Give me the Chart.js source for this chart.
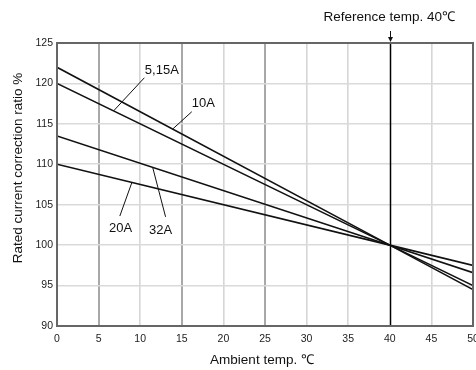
<!DOCTYPE html>
<html>
<head>
<meta charset="utf-8">
<script src="https://cdn.jsdelivr.net/npm/chart.js@4"></script>
<style>
  html, body { margin: 0; padding: 0; background: #fff; }
  #wrap { width: 476px; height: 370px; }
</style>
</head>
<body>
<div id="wrap"><canvas id="c" width="476" height="370"></canvas></div>
<script>
// ---- data ----
const temps = [0, 40, 50];
const seriesNames = ['10A', '5,15A', '32A', '20A'];
const s10A   = [122, 100, 94.5];
const s515A  = [120, 100, 95];
const s32A   = [113.5, 100, 96.6];
const s20A   = [110, 100, 97.5];
const xTicks = [0, 5, 10, 15, 20, 25, 30, 35, 40, 45, 50];
const yTicks = [90, 95, 100, 105, 110, 115, 120, 125];
const refTemp = 40;

// labels with leader lines (data units)
const callouts = [
  { text: '5,15A', series: 1, atX: 6.8,  fromX: 10.5, fromY: 120.7, tx: 12.6,  ty: 121.7 },
  { text: '10A',   series: 0, atX: 13.9, fromX: 16.2, fromY: 116.5, tx: 17.6,  ty: 117.6 },
  { text: '20A',   series: 3, atX: 9.0,  fromX: 7.55, fromY: 103.6, tx: 7.65,  ty: 102.1 },
  { text: '32A',   series: 2, atX: 11.5, fromX: 13.05,fromY: 103.5, tx: 12.45, ty: 101.9 }
];

const allSeries = [s10A, s515A, s32A, s20A];
function valAt(arr, x) {
  for (let i = 0; i < temps.length - 1; i++) {
    if (x >= temps[i] && x <= temps[i+1]) {
      const t = (x - temps[i]) / (temps[i+1] - temps[i]);
      return arr[i] + t * (arr[i+1] - arr[i]);
    }
  }
  return arr[arr.length - 1];
}

const FONT = '"Liberation Sans", Arial, Helvetica, sans-serif';

const datasets = allSeries.map((arr, i) => ({
  label: seriesNames[i],
  data: temps.map((t, j) => ({ x: t, y: arr[j] })),
  borderColor: '#111',
  borderWidth: 1.6,
  pointRadius: 0,
  fill: false,
  tension: 0
}));

const decor = {
  id: 'decor',
  beforeDatasetsDraw(chart) {
    const { ctx, chartArea: a, scales: { x, y } } = chart;
    ctx.save();
    ctx.strokeStyle = '#000';
    ctx.lineWidth = 1.5;
    const rx = Math.round(x.getPixelForValue(refTemp)) + 0.5;
    ctx.beginPath(); ctx.moveTo(rx, a.top); ctx.lineTo(rx, a.bottom); ctx.stroke();
    ctx.restore();
  },
  afterDatasetsDraw(chart) {
    const { ctx, chartArea: a, scales: { x, y } } = chart;
    ctx.save();
    // frame
    ctx.strokeStyle = '#666';
    ctx.lineWidth = 2;
    ctx.strokeRect(a.left, a.top, a.right - a.left, a.bottom - a.top);

    // callouts
    ctx.font = '13px ' + FONT;
    ctx.textAlign = 'center';
    ctx.textBaseline = 'middle';
    callouts.forEach(c => {
      const px = x.getPixelForValue(c.tx), py = y.getPixelForValue(c.ty);
      const w = ctx.measureText(c.text).width;
      ctx.fillStyle = '#fff';
      ctx.fillRect(px - w/2 - 2, py - 8, w + 4, 16);
      ctx.fillStyle = '#111';
      ctx.fillText(c.text, px, py + 0.5);
      ctx.strokeStyle = '#111';
      ctx.lineWidth = 1;
      ctx.beginPath();
      ctx.moveTo(x.getPixelForValue(c.fromX), y.getPixelForValue(c.fromY));
      ctx.lineTo(x.getPixelForValue(c.atX), y.getPixelForValue(valAt(allSeries[c.series], c.atX)));
      ctx.stroke();
    });

    // reference annotation
    const rx = Math.round(x.getPixelForValue(refTemp)) + 0.5;
    ctx.strokeStyle = '#111';
    ctx.lineWidth = 1;
    ctx.beginPath(); ctx.moveTo(rx, a.top - 12); ctx.lineTo(rx, a.top - 2); ctx.stroke();
    ctx.fillStyle = '#111';
    ctx.beginPath();
    ctx.moveTo(rx - 2.5, a.top - 6); ctx.lineTo(rx + 2.5, a.top - 6); ctx.lineTo(rx, a.top - 1); ctx.closePath(); ctx.fill();
    ctx.font = '13.5px ' + FONT;
    ctx.textAlign = 'right';
    ctx.textBaseline = 'middle';
    ctx.fillText('Reference temp. 40\u2103', 455, 17);

    // axis titles
    ctx.textAlign = 'center';
    ctx.fillText('Ambient temp. \u2103', 262, 360);
    ctx.save();
    ctx.translate(18, 168);
    ctx.rotate(-Math.PI / 2);
    ctx.fillText('Rated current correction ratio %', 0, 0);
    ctx.restore();
    ctx.restore();
  }
};

new Chart(document.getElementById('c'), {
  type: 'line',
  data: { datasets },
  options: {
    responsive: false,
    animation: false,
    events: [],
    layout: { padding: { top: 43, right: 3, left: 0, bottom: 0 } },
    plugins: { legend: { display: false }, tooltip: { enabled: false } },
    scales: {
      x: {
        type: 'linear', min: 0, max: 50,
        afterBuildTicks: s => { s.ticks = xTicks.map(v => ({ value: v })); },
        afterFit: s => { s.height = 44; s.paddingLeft = 0; s.paddingRight = 0; },
        border: { display: false },
        grid: {
          drawTicks: false,
          lineWidth: ctx => (ctx.tick && [5,15,25].includes(ctx.tick.value)) ? 2 : 1.6,
          color: ctx => {
            const v = ctx.tick && ctx.tick.value;
            if (v === 40 || v === 0 || v === 50) return 'rgba(0,0,0,0)';
            if ([5,15,25].includes(v)) return '#a8a8a8';
            return '#d6d6d6';
          }
        },
        ticks: { padding: 7, color: '#222', font: { family: FONT, size: 10.5 }, maxRotation: 0, autoSkip: false }
      },
      y: {
        type: 'linear', min: 90, max: 125,
        afterBuildTicks: s => { s.ticks = yTicks.map(v => ({ value: v })); },
        afterFit: s => { s.width = 57; s.paddingTop = 0; s.paddingBottom = 0; },
        border: { display: false },
        grid: {
          drawTicks: false,
          lineWidth: 1.6,
          color: ctx => {
            const v = ctx.tick && ctx.tick.value;
            if (v === 90 || v === 125) return 'rgba(0,0,0,0)';
            return '#dadada';
          }
        },
        ticks: { padding: 4, color: '#222', font: { family: FONT, size: 10.5 } }
      }
    }
  },
  plugins: [decor]
});
</script>
</body>
</html>
